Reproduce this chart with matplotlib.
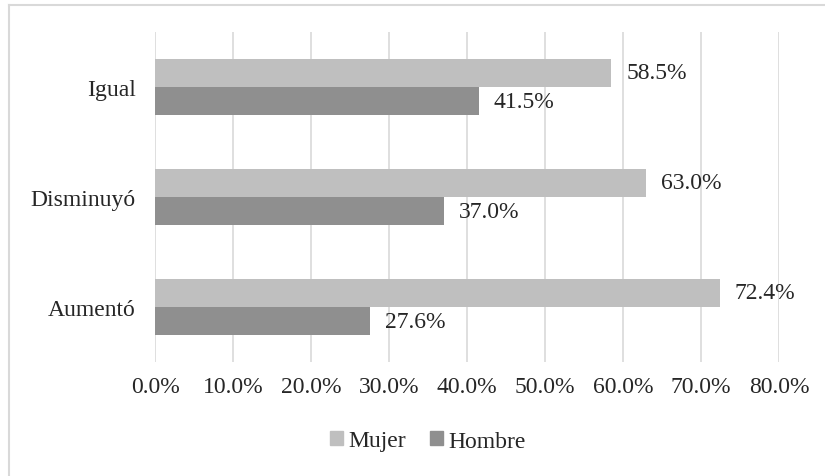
import matplotlib.pyplot as plt
from matplotlib.lines import Line2D
from matplotlib.patches import Patch

categorias = ["Aumentó", "Disminuyó", "Igual"]
mujer = [72.4, 63.0, 58.5]
hombre = [27.6, 37.0, 41.5]
ticks = [0, 10, 20, 30, 40, 50, 60, 70, 80]

plt.rcParams['font.family'] = ['Liberation Serif', 'DejaVu Serif']
txt = '#262626'
c_muj = '#BFBFBF'
c_hom = '#8F8F8F'

fig = plt.figure(figsize=(8.25, 4.77), dpi=100)
ax = fig.add_axes([155/825, 1-363/477, (779-155)/825, (363-33)/477])

h = 0.255
y = list(range(len(categorias)))
ax.barh([v + h/2 for v in y], mujer, height=h, color=c_muj, zorder=3)
ax.barh([v - h/2 for v in y], hombre, height=h, color=c_hom, zorder=3)

for i in y:
    ax.text(mujer[i] + 1.9, i + h/2, f"{mujer[i]:.1f}%", va='center', ha='left',
            fontsize=17, color=txt)
    ax.text(hombre[i] + 1.9, i - h/2, f"{hombre[i]:.1f}%", va='center', ha='left',
            fontsize=17, color=txt)

ax.set_xlim(0, 80)
ax.set_ylim(-0.5, 2.5)
ax.set_xticks(ticks)
ax.set_xticklabels([f"{t:.1f}%" for t in ticks], fontsize=17, color=txt)
ax.set_yticks(y)
ax.set_yticklabels(categorias, fontsize=17, color=txt)
ax.tick_params(length=0)
ax.tick_params(axis='y', pad=14)
ax.tick_params(axis='x', pad=10)
ax.grid(axis='x', color='#D9D9D9', linewidth=1.2, zorder=0)
for s in ax.spines.values():
    s.set_visible(False)

handles = [Patch(color=c_muj, label='Mujer'), Patch(color=c_hom, label='Hombre')]
fig.legend(handles=handles, loc='center', bbox_to_anchor=(428/825, 1-442/477), ncol=2,
           frameon=False, fontsize=17, handlelength=0.55, handleheight=0.55,
           handletextpad=0.25, columnspacing=1.0, labelcolor=txt)

# marco exterior del gráfico
fig.add_artist(Line2D([9/825, 9/825], [0, 1-6/477], color='#D9D9D9', lw=1.5))
fig.add_artist(Line2D([9/825, 1], [1-6/477, 1-6/477], color='#D9D9D9', lw=1.5))

fig.savefig('out.png', dpi=100, facecolor='white')
